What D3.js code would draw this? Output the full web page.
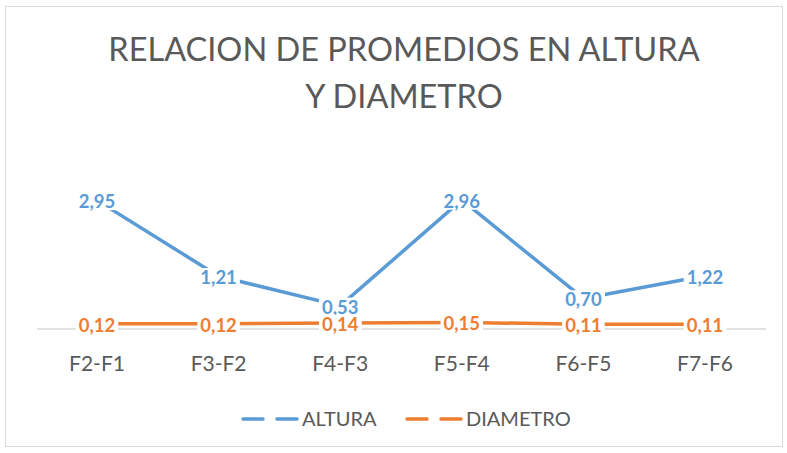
<!DOCTYPE html>
<html>
<head>
<meta charset="utf-8">
<script src="https://cdn.jsdelivr.net/npm/d3@7"></script>
<style>
  body { margin: 0; background: #fff; }
  svg { display: block; font-family: Lato, "Open Sans", sans-serif; }
</style>
</head>
<body>
<script>
var categories = ["F2-F1", "F3-F2", "F4-F3", "F5-F4", "F6-F5", "F7-F6"];
var altura = [2.95, 1.21, 0.53, 2.96, 0.70, 1.22];
var diametro = [0.12, 0.12, 0.14, 0.15, 0.11, 0.11];
var seriesNames = ["ALTURA", "DIAMETRO"];
var titleLines = ["RELACION DE PROMEDIOS EN ALTURA", "Y DIAMETRO"];

var width = 787, height = 453;
var colors = ["#5b9bd5", "#ed7d31"];

var svg = d3.select("body").append("svg")
    .attr("width", width).attr("height", height);

// chart border
svg.append("rect")
    .attr("x", 5.5).attr("y", 6.5)
    .attr("width", 777).attr("height", 440)
    .attr("fill", "#fff").attr("stroke", "#d9d9d9");

// title
svg.selectAll(".title").data(titleLines).enter().append("text")
    .attr("class", "title")
    .attr("x", 404)
    .attr("y", function(d, i) { return 61 + i * 47; })
    .attr("text-anchor", "middle")
    .attr("fill", "#595959")
    .style("font-size", "32.5px")
    .text(function(d) { return d; });

var x = d3.scalePoint().domain(categories).range([97, 705]);
var y = d3.scaleLinear().domain([0, 3.5]).range([329, 176.4]);

// baseline axis
svg.append("line")
    .attr("x1", 37).attr("x2", 766)
    .attr("y1", y(0)).attr("y2", y(0))
    .attr("stroke", "#d9d9d9").attr("stroke-width", 1.5);

svg.selectAll(".cat").data(categories).enter().append("text")
    .attr("class", "cat")
    .attr("x", function(d) { return x(d); })
    .attr("y", 371)
    .attr("text-anchor", "middle")
    .attr("fill", "#595959")
    .style("font-size", "21px")
    .text(function(d) { return d; });

var series = [altura, diametro];
var line = d3.line()
    .x(function(d, i) { return x(categories[i]); })
    .y(function(d) { return y(d); });

series.forEach(function(vals, s) {
  svg.append("path")
      .datum(vals)
      .attr("d", line)
      .attr("fill", "none")
      .attr("stroke", colors[s])
      .attr("stroke-width", 3.5)
      .attr("stroke-linejoin", "round");
});

// data labels centered on points, with white box hiding the line
function fmt(v) { return d3.format(".2f")(v).replace(".", ","); }

series.forEach(function(vals, s) {
  var g = svg.append("g");
  vals.forEach(function(v, i) {
    var cx = x(categories[i]), cy = y(v);
    var t = g.append("text")
        .attr("x", cx).attr("y", cy)
        .attr("dy", "0.42em")
        .attr("text-anchor", "middle")
        .attr("fill", colors[s])
        .style("font-size", "18.5px")
        .style("font-weight", "bold")
        .text(fmt(v));
    var bb = t.node().getBBox();
    g.insert("rect", function() { return t.node(); })
        .attr("x", bb.x - 3).attr("y", bb.y + 2)
        .attr("width", bb.width + 6).attr("height", bb.height - 4)
        .attr("fill", "#fff");
  });
});

// legend
var legendX = [243, 407];
seriesNames.forEach(function(name, s) {
  var lx = legendX[s];
  [0, 34].forEach(function(off) {
    svg.append("line")
        .attr("x1", lx + off).attr("x2", lx + off + 20)
        .attr("y1", 419).attr("y2", 419)
        .attr("stroke", colors[s]).attr("stroke-width", 3.5)
        .attr("stroke-linecap", "round");
  });
  svg.append("text")
      .attr("x", lx + 59).attr("y", 426)
      .attr("fill", "#595959")
      .style("font-size", "20px")
      .text(name);
});
</script>
</body>
</html>
